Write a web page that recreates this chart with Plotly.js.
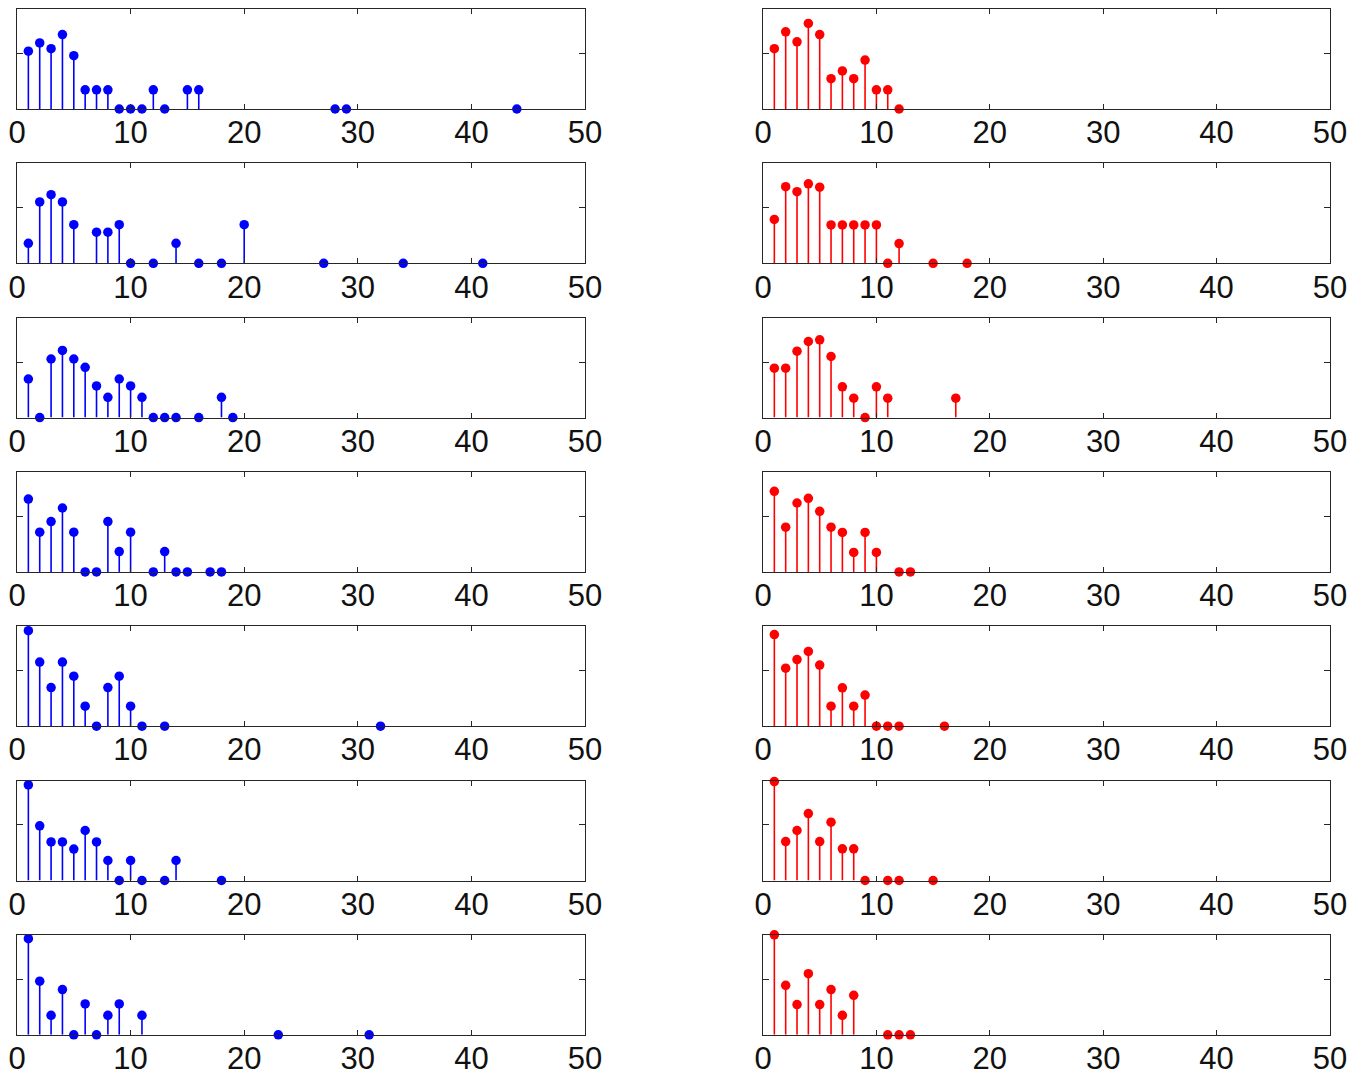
<!DOCTYPE html>
<html>
<head>
<meta charset="utf-8">
<script src="https://cdn.plot.ly/plotly-3.0.1.min.js"></script>
<style>
html,body{margin:0;padding:0;background:#fff;}
#chart{width:1365px;height:1075px;}
</style>
</head>
<body>
<div id="chart"></div>
<script>
// ---- data (left column, blue) ----
const L1_x = [1,2,3,4,5,6,7,8,9,10,11,12,13,15,16,28,29,44];
const L1_y = [2.08,2.38,2.17,2.68,1.92,0.69,0.69,0.69,0,0,0,0.69,0,0.69,0.69,0,0,0];
const L2_x = [1,2,3,4,5,7,8,9,10,12,14,16,18,20,27,34,41];
const L2_y = [0.72,2.21,2.47,2.21,1.39,1.12,1.12,1.39,0,0,0.72,0,0,1.39,0,0,0];
const L3_x = [1,2,3,4,5,6,7,8,9,10,11,12,13,14,16,18,19];
const L3_y = [1.39,0,2.11,2.42,2.11,1.81,1.14,0.73,1.39,1.14,0.73,0,0,0,0,0.73,0];
const L4_x = [1,2,3,4,5,6,7,8,9,10,12,13,14,15,17,18];
const L4_y = [2.62,1.43,1.81,2.30,1.43,0,0,1.81,0.73,1.43,0,0.73,0,0,0,0];
const L5_x = [1,2,3,4,5,6,7,8,9,10,11,13,32];
const L5_y = [3.44,2.31,1.39,2.31,1.80,0.72,0,1.39,1.80,0.72,0,0,0];
const L6_x = [1,2,3,4,5,6,7,8,9,10,11,13,14,18];
const L6_y = [3.44,1.97,1.39,1.39,1.13,1.80,1.39,0.72,0,0.72,0,0,0.72,0];
const L7_x = [1,2,3,4,5,6,7,8,9,11,23,31];
const L7_y = [3.46,1.93,0.70,1.63,0,1.11,0,0.70,1.11,0.70,0,0];

// ---- data (right column, red) ----
const R1_x = [1,2,3,4,5,6,7,8,9,10,11,12];
const R1_y = [2.17,2.78,2.42,3.08,2.68,1.09,1.37,1.09,1.76,0.69,0.69,0];
const R2_x = [1,2,3,4,5,6,7,8,9,10,11,12,15,18];
const R2_y = [1.58,2.76,2.58,2.86,2.74,1.38,1.38,1.38,1.38,1.38,0,0.71,0,0];
const R3_x = [1,2,3,4,5,6,7,8,9,10,11,17];
const R3_y = [1.78,1.78,2.39,2.74,2.80,2.20,1.11,0.70,0,1.11,0.70,0.70];
const R4_x = [1,2,3,4,5,6,7,8,9,10,12,13];
const R4_y = [2.90,1.61,2.48,2.65,2.18,1.61,1.42,0.70,1.42,0.70,0,0];
const R5_x = [1,2,3,4,5,6,7,8,9,10,11,12,16];
const R5_y = [3.30,2.09,2.40,2.69,2.20,0.72,1.38,0.72,1.12,0,0,0,0];
const R6_x = [1,2,3,4,5,6,7,8,9,11,12,15];
const R6_y = [3.56,1.40,1.80,2.41,1.40,2.10,1.14,1.14,0,0,0,0];
const R7_x = [1,2,3,4,5,6,7,8,11,12,13];
const R7_y = [3.60,1.78,1.09,2.20,1.09,1.63,0.70,1.42,0,0,0];

const xTicks = [0,10,20,30,40,50];
const xTickText = ['0','10','20','30','40','50'];

const leftSeries = [[L1_x,L1_y],[L2_x,L2_y],[L3_x,L3_y],[L4_x,L4_y],[L5_x,L5_y],[L6_x,L6_y],[L7_x,L7_y]];
const rightSeries = [[R1_x,R1_y],[R2_x,R2_y],[R3_x,R3_y],[R4_x,R4_y],[R5_x,R5_y],[R6_x,R6_y],[R7_x,R7_y]];

// ---- layout geometry ----
const W = 1365, H = 1075;
const colX = [[17,585],[763,1330]];
const rowTop0 = 9, rowPitch = 154.3, rowH = 100;
const axColor = '#262626';

const traces = [];
const layout = {
  width: W, height: H,
  margin: {l:0, r:0, t:0, b:0, pad:0},
  paper_bgcolor: '#ffffff', plot_bgcolor: '#ffffff',
  showlegend: false
};

function addPanel(idx, series, col, row, color) {
  const sfx = idx === 1 ? '' : String(idx);
  const xa = 'x' + sfx, ya = 'y' + sfx;
  const xs = series[0], ys = series[1];
  traces.push({
    type: 'scatter', mode: 'markers', x: xs, y: ys,
    xaxis: xa, yaxis: ya, cliponaxis: false,
    marker: {color: color, size: 9.5, symbol: 'circle', line: {width: 0}},
    error_y: {type: 'data', symmetric: false, array: ys.map(() => 0), arrayminus: ys,
              width: 0, thickness: 1.6, color: color},
    hoverinfo: 'skip'
  });
  const top = rowTop0 + rowPitch * row;
  const bot = top + rowH;
  layout['xaxis' + sfx] = {
    domain: [colX[col][0] / W, colX[col][1] / W],
    anchor: ya, range: [0, 50], tickvals: xTicks, ticktext: xTickText,
    ticks: 'inside', ticklen: 5, tickwidth: 1, tickcolor: axColor,
    showline: true, linecolor: axColor, linewidth: 1, mirror: 'ticks',
    showgrid: false, zeroline: false, fixedrange: true,
    ticklabelstandoff: -4,
    tickfont: {family: 'Liberation Sans, Arial, sans-serif', size: 31, color: '#111111'}
  };
  layout['yaxis' + sfx] = {
    domain: [1 - bot / H, 1 - top / H],
    anchor: xa, range: [0, 3.6], tickvals: [2], showticklabels: false,
    ticks: 'inside', ticklen: 6, tickwidth: 1, tickcolor: axColor,
    showline: true, linecolor: axColor, linewidth: 1, mirror: 'ticks',
    showgrid: false, zeroline: false, fixedrange: true
  };
}

let k = 1;
for (let r = 0; r < 7; r++) {
  addPanel(k++, leftSeries[r], 0, r, '#0000ff');
  addPanel(k++, rightSeries[r], 1, r, '#ff0000');
}

Plotly.newPlot('chart', traces, layout, {staticPlot: true, displayModeBar: false});
</script>
</body>
</html>
